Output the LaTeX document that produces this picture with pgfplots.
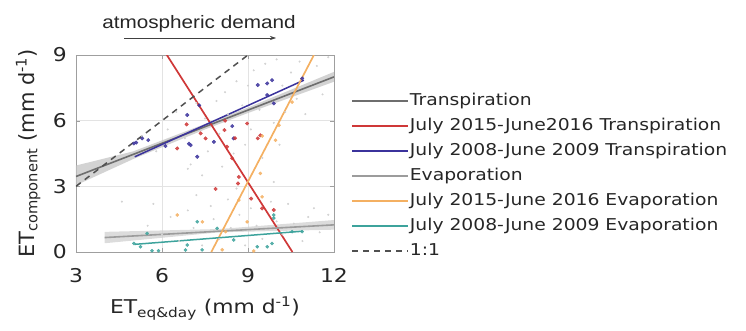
\documentclass[border=0pt]{standalone}
\usepackage{fontspec}
\setmainfont{DejaVu Sans}[FakeStretch=1.15]
\newfontfamily\yfont{DejaVu Sans}
\newfontfamily\titlefont{Liberation Sans}[FakeStretch=1.15]
\usepackage{pgfplots}
\pgfplotsset{compat=1.18}
\usetikzlibrary{arrows.meta}
\definecolor{cT}{HTML}{6E6E6E}
\definecolor{cTband}{HTML}{C4C4C4}
\definecolor{cE}{HTML}{9C9C9C}
\definecolor{cEband}{HTML}{D0D0D0}
\definecolor{cRed}{HTML}{CF3838}
\definecolor{cBlue}{HTML}{3B339C}
\definecolor{cOrange}{HTML}{F4B062}
\definecolor{cTeal}{HTML}{3DA39C}
\definecolor{cDash}{HTML}{505050}
\begin{document}
\begin{tikzpicture}
\useasboundingbox (-76pt,-78pt) rectangle (670pt,252pt);
\begin{axis}[
  at={(0pt,0pt)}, anchor=south west,
  scale only axis, width=258pt, height=197pt,
  xmin=3, xmax=12, ymin=0, ymax=9,
  xtick={3,6,9,12}, ytick={0,3,6,9},
  grid=major, grid style={gray!22, line width=0.6pt},
  axis line style={gray!75, line width=0.8pt},
  tick align=inside, major tick length=4pt, tick style={gray!75},
  /pgf/number format/assume math mode=true,
  tick label style={font=\fontsize{19}{19}\selectfont, text=black!85},
  xticklabel style={inner sep=0pt, yshift=-16pt},
  yticklabel style={inner sep=0pt, xshift=-9pt},
  xlabel={ET\textsubscript{eq\&day} (mm d\textsuperscript{-1})},
  ylabel={ET\textsubscript{component} (mm d\textsuperscript{-1})},
  xlabel style={font=\fontsize{19}{19}\selectfont, text=black!85, at={(axis description cs:0.5,-0.31)}, anchor=base},
  ylabel style={font=\yfont\fontsize{21}{21}\selectfont, text=black!85, at={(axis description cs:-0.185,0.5)}, anchor=center, rotate=0},
  clip=true,
  legend cell align=left,
  legend image code/.code={\draw[#1] (0pt,0pt) -- (56pt,0pt);},
  legend style={draw=none, fill=none, font=\fontsize{16.3}{16.3}\selectfont, text=black!85,
    at={(rel axis cs:1,1)}, anchor=north west, xshift=17pt, yshift=-37pt,
    row sep=7pt, inner sep=0pt,
    nodes={inner sep=1pt, text height=12pt, text depth=4pt}},
]
% faint background clouds
\addplot[only marks, mark=*, mark size=0.8pt, color=gray!35, forget plot] coordinates {
(5.3,5.3)(5.8,4.6)(6.2,5.6)(6.5,6.4)(6.8,5.2)(7.0,4.0)(7.2,6.8)(7.5,6.1)(7.6,4.6)(7.9,6.9)
(8.0,5.4)(8.2,7.3)(8.3,6.3)(8.5,4.5)(8.6,7.8)(8.8,6.7)(9.0,7.6)(9.1,5.6)(9.2,8.3)(9.4,6.5)
(9.6,8.6)(9.7,7.2)(9.9,5.9)(10.0,8.8)(10.2,7.6)(10.3,6.4)(10.5,8.2)(10.7,7.0)(10.8,8.7)(11.0,6.3)
(11.2,7.7)(11.4,8.5)(11.6,7.2)(11.8,8.9)(8.9,4.9)(7.4,3.5)(6.9,3.8)(8.1,3.9)(9.5,4.3)(10.1,4.9)
(5.7,2.2)(4.6,2.3)
(5.5,1.2)(6.0,0.8)(6.3,1.6)(6.6,0.5)(6.9,1.9)(7.1,1.1)(7.4,0.3)(7.7,2.1)(7.8,1.5)(8.0,0.6)
(8.3,2.4)(8.4,1.1)(8.7,1.7)(8.9,0.3)(9.1,2.0)(9.3,1.2)(9.5,0.6)(9.8,2.3)(10.0,1.4)(10.2,0.8)
(10.4,2.2)(10.6,1.3)(10.9,0.5)(11.1,1.6)(11.3,2.0)(11.5,0.9)(11.8,1.7)(7.2,2.6)(8.6,2.9)(9.9,3.2)};
% confidence bands
\addplot[fill=cTband, fill opacity=0.75, draw=none, forget plot] coordinates {
(3,3.05)(5,4.25)(7.5,5.6)(9,6.35)(12,7.78)(12,8.23)(9,6.6)(7.5,5.85)(5,4.6)(3,3.95)} -- cycle;
\addplot[fill=cEband, fill opacity=0.75, draw=none, forget plot] coordinates {
(4.0,0.40)(8,0.9)(12,1.02)(12,1.46)(8,1.05)(4.0,0.92)} -- cycle;
% coloured points
\addplot[only marks, mark=*, mark size=1.8pt, color=cBlue, opacity=0.85, forget plot] coordinates {
(5.02,4.96)(5.1,5.0)(5.31,5.19)(5.52,5.11)(6.12,4.84)(6.88,6.26)(6.94,4.95)(7.0,4.88)(7.23,4.35)
(7.81,5.03)(8.45,5.75)(8.5,5.19)(9.34,7.63)(9.67,7.70)(9.84,7.85)(9.67,7.17)(9.9,6.79)(10.89,7.93)(7.3,6.7)};
\addplot[only marks, mark=*, mark size=1.8pt, color=cRed, opacity=0.85, forget plot] coordinates {
(6.53,4.73)(6.86,5.83)(7.35,5.42)(7.52,5.19)(7.87,2.88)(8.18,5.57)(8.27,4.81)(8.45,4.28)
(8.68,3.43)(8.65,3.13)(8.97,5.87)(9.11,2.44)(9.34,5.19)(9.43,5.33)(9.49,1.99)(9.9,1.92)(8.2,6.0)(8.55,5.2)};
\addplot[only marks, mark=*, mark size=1.6pt, color=cOrange, opacity=0.85, forget plot] coordinates {
(6.53,1.69)(7.41,1.38)(8.22,0.93)(8.68,2.37)(9.49,2.52)(9.43,3.59)(9.96,5.11)(10.08,5.79)
(10.54,6.85)(8.97,1.38)(9.5,5.3)(8.1,0.1)(9.2,0.05)};
\addplot[only marks, mark=*, mark size=1.6pt, color=cTeal, opacity=0.85, forget plot] coordinates {
(5.02,0.39)(5.25,0.24)(5.48,0.85)(5.65,0.06)(5.88,0.06)(6.88,0.32)(6.82,0.09)(7.23,1.38)
(7.92,1.08)(8.5,0.55)(9.32,0.24)(9.67,0.24)(9.9,1.69)(9.84,0.39)(9.9,1.55)(10.54,0.93)(10.89,0.93)(7.4,0.1)};
% fitted lines (legend order)
\addplot[cT, line width=1.6pt] coordinates {(3,3.45)(12,8.0)};
\addlegendentry{Transpiration}
\addplot[cRed, line width=1.7pt] coordinates {(6.17,9)(10.55,0)};
\addlegendentry{July 2015-June2016 Transpiration}
\addplot[cBlue, line width=1.5pt] coordinates {(5.05,4.35)(10.95,7.85)};
\addlegendentry{July 2008-June 2009 Transpiration}
\addplot[cE, line width=1.6pt] coordinates {(4.0,0.66)(12,1.24)};
\addlegendentry{Evaporation}
\addplot[cOrange, line width=1.7pt] coordinates {(7.72,0)(11.3,9)};
\addlegendentry{July 2015-June 2016 Evaporation}
\addplot[cTeal, line width=1.5pt] coordinates {(5.05,0.35)(10.9,0.95)};
\addlegendentry{July 2008-June 2009 Evaporation}
\addplot[cDash, line width=1.5pt, dash pattern=on 6pt off 5pt] coordinates {(3,3)(9,9)};
\addlegendentry{1:1}
\end{axis}
\node[font=\titlefont\fontsize{18}{18}\selectfont, anchor=base, text=black!85] at (123pt,224pt) {atmospheric demand};
\draw[-{Stealth[length=6pt,width=4pt]}, line width=0.6pt, black!75] (48pt,214pt) -- (200pt,214pt);
\end{tikzpicture}
\end{document}
